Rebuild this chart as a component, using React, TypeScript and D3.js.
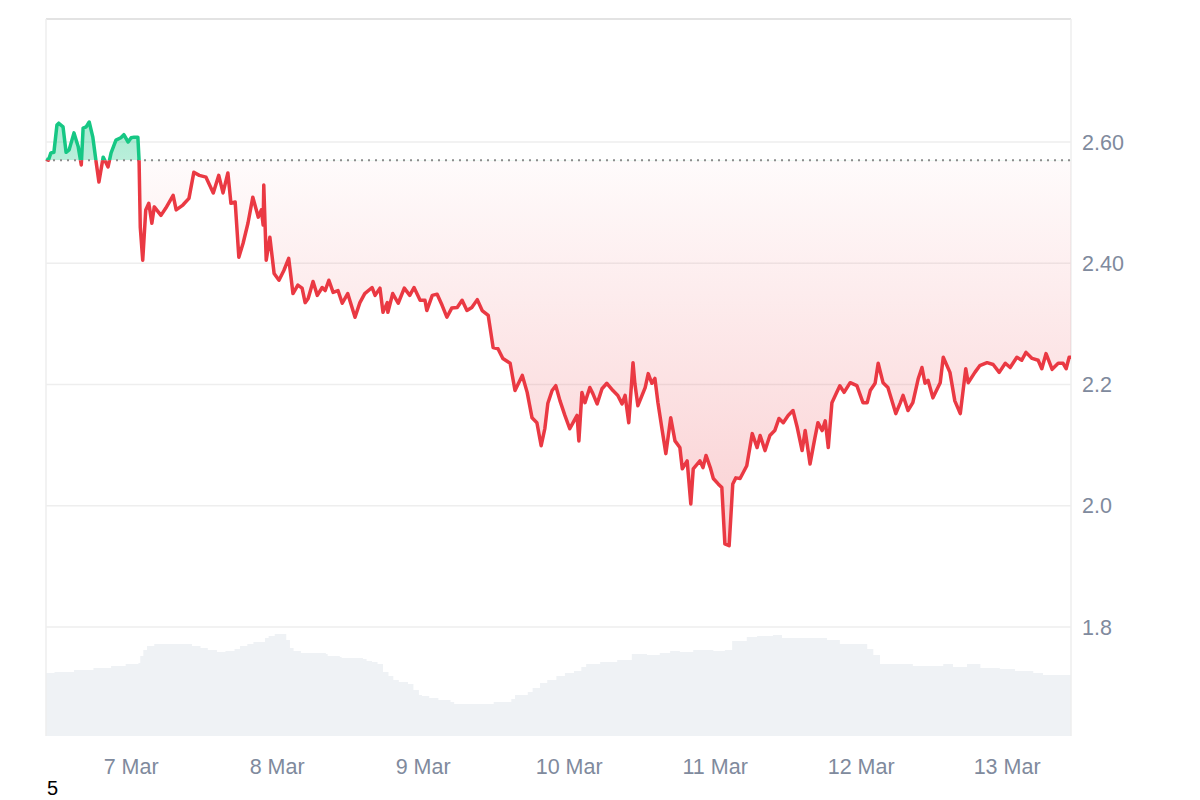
import React from "react";
import * as d3 from "d3";

// Hours since 6 Mar 10:00 UTC and prices
const priceHours = [0, 0.4, 0.8, 1.3, 1.8, 2.1, 2.8, 3.3, 3.8, 4.6, 5.3, 5.8, 6.1, 6.6, 7.1, 7.7, 8.2, 8.7, 9.4, 9.9, 10.2, 10.7, 11.5, 12.3, 12.8, 13.5, 14.0, 14.5, 15.1, 15.3, 15.5, 15.9, 16.4, 16.9, 17.4, 17.8, 18.9, 19.7, 20.9, 21.4, 22.5, 23.5, 24.3, 25.2, 26.3, 27.5, 28.4, 29.1, 29.9, 30.4, 31.1, 31.7, 32.4, 33.2, 34.0, 34.9, 35.4, 35.7, 35.8, 36.2, 36.8, 37.5, 38.3, 39.1, 39.9, 40.6, 41.4, 42.1, 42.6, 43.1, 43.9, 44.6, 45.4, 45.9, 46.5, 47.2, 48.0, 48.7, 49.6, 50.8, 51.6, 52.4, 53.6, 54.1, 54.9, 55.4, 56.1, 56.2, 57.0, 57.9, 58.9, 59.8, 60.5, 61.5, 62.3, 62.6, 63.5, 64.3, 65.1, 65.9, 66.7, 67.6, 68.4, 69.2, 70.0, 70.9, 71.7, 72.7, 73.5, 74.3, 75.1, 76.3, 77.1, 78.3, 79.1, 79.9, 80.7, 81.4, 82.0, 82.5, 83.2, 83.8, 84.5, 85.3, 86.1, 86.8, 87.3, 87.6, 88.1, 88.6, 89.4, 89.9, 90.6, 91.4, 92.2, 93.2, 94.0, 94.7, 95.2, 95.8, 96.5, 96.8, 97.3, 98.5, 99.0, 99.6, 100.1, 100.6, 101.3, 101.9, 102.7, 103.4, 104.2, 104.6, 105.4, 106.0, 106.4, 107.5, 108.0, 108.5, 109.2, 109.7, 110.5, 111.1, 111.6, 112.3, 112.9, 113.4, 114.1, 115.2, 116.1, 116.9, 117.4, 118.2, 119.0, 119.8, 120.5, 121.2, 122.0, 122.8, 123.5, 124.3, 124.8, 125.6, 126.4, 126.9, 127.6, 128.1, 128.6, 129.2, 129.9, 130.5, 131.2, 132.2, 133.3, 134.3, 135.0, 135.5, 136.3, 136.8, 137.6, 138.4, 139.7, 140.4, 140.9, 141.7, 142.5, 143.4, 144.0, 144.5, 145.0, 145.8, 147.0, 147.5, 148.6, 149.4, 150.3, 151.2, 151.6, 152.7, 153.5, 154.7, 155.7, 156.7, 157.7, 158.5, 159.6, 160.4, 161.1, 162.1, 163.1, 163.7, 164.4, 165.4, 166.4, 167.2, 167.7, 168.2, 168.5];
const prices = [2.572, 2.570, 2.582, 2.583, 2.628, 2.631, 2.625, 2.583, 2.587, 2.615, 2.592, 2.562, 2.623, 2.625, 2.633, 2.608, 2.570, 2.534, 2.575, 2.565, 2.559, 2.582, 2.603, 2.607, 2.612, 2.600, 2.607, 2.608, 2.608, 2.570, 2.459, 2.405, 2.488, 2.499, 2.466, 2.493, 2.479, 2.491, 2.512, 2.488, 2.496, 2.507, 2.550, 2.545, 2.542, 2.516, 2.545, 2.516, 2.549, 2.499, 2.501, 2.410, 2.433, 2.466, 2.509, 2.476, 2.488, 2.463, 2.529, 2.405, 2.443, 2.383, 2.372, 2.388, 2.408, 2.350, 2.364, 2.359, 2.335, 2.342, 2.370, 2.347, 2.360, 2.355, 2.372, 2.352, 2.355, 2.334, 2.350, 2.311, 2.335, 2.350, 2.360, 2.347, 2.359, 2.319, 2.335, 2.319, 2.350, 2.334, 2.359, 2.347, 2.360, 2.339, 2.339, 2.322, 2.347, 2.349, 2.331, 2.311, 2.326, 2.327, 2.339, 2.322, 2.327, 2.340, 2.322, 2.314, 2.261, 2.259, 2.243, 2.235, 2.190, 2.215, 2.187, 2.145, 2.137, 2.099, 2.127, 2.169, 2.190, 2.198, 2.173, 2.149, 2.127, 2.140, 2.149, 2.107, 2.187, 2.170, 2.195, 2.185, 2.168, 2.193, 2.202, 2.190, 2.182, 2.168, 2.182, 2.137, 2.236, 2.202, 2.165, 2.195, 2.218, 2.202, 2.210, 2.170, 2.124, 2.086, 2.145, 2.107, 2.096, 2.061, 2.074, 2.003, 2.061, 2.074, 2.063, 2.083, 2.063, 2.045, 2.036, 2.030, 1.937, 1.934, 2.036, 2.046, 2.045, 2.066, 2.119, 2.096, 2.116, 2.091, 2.116, 2.124, 2.144, 2.137, 2.149, 2.157, 2.129, 2.091, 2.124, 2.069, 2.112, 2.137, 2.124, 2.140, 2.096, 2.170, 2.185, 2.198, 2.187, 2.203, 2.198, 2.170, 2.170, 2.190, 2.202, 2.235, 2.203, 2.195, 2.152, 2.169, 2.182, 2.157, 2.170, 2.210, 2.228, 2.202, 2.207, 2.178, 2.203, 2.245, 2.220, 2.173, 2.152, 2.226, 2.203, 2.220, 2.231, 2.236, 2.233, 2.220, 2.235, 2.228, 2.245, 2.240, 2.253, 2.243, 2.240, 2.226, 2.251, 2.225, 2.235, 2.235, 2.226, 2.245, 2.245];

const volumeHours = [0, 1.4, 4.6, 7.8, 10.7, 13.1, 15.2, 15.5, 16.0, 16.6, 17.8, 23.7, 24.0, 25.4, 26.6, 28.1, 29.5, 31.0, 31.9, 33.1, 34.1, 36.0, 36.6, 37.6, 39.4, 39.5, 40.1, 40.7, 41.9, 46.0, 46.3, 48.3, 48.6, 52.1, 52.7, 53.6, 54.5, 55.4, 56.3, 57.1, 58.0, 59.5, 60.4, 61.3, 61.8, 63.0, 64.5, 66.5, 67.1, 73.3, 73.6, 76.5, 77.1, 79.2, 80.0, 81.2, 82.4, 83.9, 85.3, 86.8, 88.0, 88.8, 91.1, 93.9, 96.3, 98.8, 100.9, 102.6, 104.2, 106.4, 109.7, 111.6, 112.8, 115.2, 116.9, 119.5, 121.0, 125.1, 128.4, 130.5, 135.0, 136.0, 137.1, 142.5, 147.5, 149.1, 151.4, 153.6, 156.8, 159.3, 162.3, 163.9, 168.5];
const volumes = [63, 64, 66, 68, 70, 72, 73, 80, 86, 90, 92, 92, 90, 88, 86, 84, 85, 87, 90, 92, 94, 98, 100, 102, 102, 96, 88, 85, 83, 82, 80, 79, 78, 77, 75, 74, 72, 64, 60, 56, 54, 52, 46, 41, 40, 38, 36, 34, 32, 32, 34, 37, 41, 44, 48, 53, 56, 60, 63, 65, 69, 72, 74, 76, 82, 81, 83, 85, 84, 86, 85, 86, 95, 99, 100, 101, 98, 98, 96, 92, 87, 81, 72, 70, 72, 69, 72, 68, 67, 65, 63, 61, 59];

const priceTicks = [2.6, 2.4, 2.2, 2.0, 1.8];
const priceTickLabels = ["2.60", "2.40", "2.2", "2.0", "1.8"];
const dayTicks = ["2025-03-07", "2025-03-08", "2025-03-09", "2025-03-10", "2025-03-11", "2025-03-12", "2025-03-13"];
const baselinePrice = 2.57;

const START = Date.UTC(2025, 2, 6, 10, 0);
const HOUR = 3600 * 1000;

export default function App() {
  const left = 46, right = 1071, top = 19, bottom = 736;
  const x = d3.scaleUtc().domain([new Date(START), new Date(START + 168.5 * HOUR)]).range([left, right]);
  const y = d3.scaleLinear().domain([1.8, 2.6]).range([627, 142]);
  const yv = d3.scaleLinear().domain([0, 106]).range([bottom, 630]);

  const pts = priceHours.map((h, i) => ({ t: new Date(START + h * HOUR), v: prices[i] }));
  const vpts = volumeHours.map((h, i) => ({ t: new Date(START + h * HOUR), v: volumes[i] }));
  const yBase = y(baselinePrice);

  const line = d3.line<any>().x(d => x(d.t)).y(d => y(d.v));
  const area = d3.area<any>().x(d => x(d.t)).y0(yBase).y1(d => y(d.v));
  const vArea = d3.area<any>().x(d => x(d.t)).y0(bottom).y1(d => yv(d.v)).curve(d3.curveStepAfter);

  const fmt = d3.utcFormat("%-d %b");
  const font = "'Liberation Sans', Arial, Helvetica, sans-serif";
  const minY = y(d3.min(prices) as number);

  return (
    <svg width={1200} height={800} style={{ position: "absolute", left: 0, top: 0, background: "#fff" }}>
      <defs>
        <clipPath id="above"><rect x={0} y={0} width={1200} height={yBase} /></clipPath>
        <clipPath id="below"><rect x={0} y={yBase} width={1200} height={800 - yBase} /></clipPath>
        <linearGradient id="redGrad" gradientUnits="userSpaceOnUse" x1={0} y1={yBase} x2={0} y2={minY}>
          <stop offset="0" stopColor="#ea3943" stopOpacity={0.02} />
          <stop offset="1" stopColor="#ea3943" stopOpacity={0.24} />
        </linearGradient>
        <linearGradient id="greenGrad" gradientUnits="userSpaceOnUse" x1={0} y1={y(2.64)} x2={0} y2={yBase}>
          <stop offset="0" stopColor="#16c784" stopOpacity={0.38} />
          <stop offset="1" stopColor="#16c784" stopOpacity={0.3} />
        </linearGradient>
      </defs>

      {/* volume */}
      <path d={vArea(vpts) || ""} fill="#eff2f5" />

      {/* grid */}
      {priceTicks.map((p, i) => (
        <line key={i} x1={left} x2={right} y1={y(p)} y2={y(p)} stroke="#eeeeee" strokeWidth={1.5} />
      ))}
      <line x1={left} x2={right} y1={top} y2={top} stroke="#e3e3e3" strokeWidth={2} />
      <line x1={left} x2={left} y1={top} y2={bottom} stroke="#eeeeee" strokeWidth={1.5} />
      <line x1={right} x2={right} y1={top} y2={bottom} stroke="#eeeeee" strokeWidth={1.5} />

      {/* areas */}
      <path d={area(pts) || ""} fill="url(#greenGrad)" clipPath="url(#above)" />
      <path d={area(pts) || ""} fill="url(#redGrad)" clipPath="url(#below)" />

      {/* baseline */}
      <line x1={left} x2={right} y1={yBase} y2={yBase} stroke="#8c8c8c" strokeWidth={2} strokeDasharray="2 5" />

      {/* lines */}
      <path d={line(pts) || ""} fill="none" stroke="#16c784" strokeWidth={3.5} strokeLinejoin="round" clipPath="url(#above)" />
      <path d={line(pts) || ""} fill="none" stroke="#ea3943" strokeWidth={3.5} strokeLinejoin="round" clipPath="url(#below)" />

      {/* y labels */}
      {priceTicks.map((p, i) => (
        <text key={i} x={1082} y={y(p)} dy="0.36em" fontSize={21.5} fill="#808a9d" fontFamily={font}>{priceTickLabels[i]}</text>
      ))}

      {/* x labels */}
      {dayTicks.map((d, i) => {
        const t = new Date(d + "T00:00:00Z");
        return (
          <text key={i} x={x(t)} y={774} textAnchor="middle" fontSize={21.5} fill="#808a9d" fontFamily={font}>{fmt(t)}</text>
        );
      })}

      <text x={47} y={795} fontSize={20} fill="#000" fontFamily={font}>5</text>
    </svg>
  );
}
